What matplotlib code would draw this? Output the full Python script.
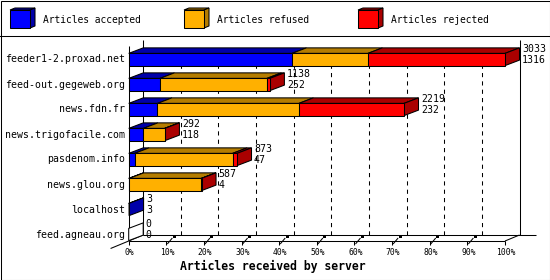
import numpy as np
import matplotlib
matplotlib.use('Agg')
import matplotlib.pyplot as plt
from matplotlib.patches import Polygon, Rectangle
from matplotlib.lines import Line2D

# articles per server
servers = ['feeder1-2.proxad.net', 'feed-out.gegeweb.org', 'news.fdn.fr',
           'news.trigofacile.com', 'pasdenom.info', 'news.glou.org',
           'localhost', 'feed.agneau.org']
accepted = [1316, 252, 232, 118, 47, 4, 3, 0]
refused = [612, 862, 1140, 172, 790, 582, 0, 0]
rejected = [1105, 24, 847, 2, 36, 1, 0, 0]

series_names = ['Articles accepted', 'Articles refused', 'Articles rejected']
front_colors = ['#0000ff', '#ffb000', '#ff0000']
dark_colors = ['#0000aa', '#b57d00', '#aa0000']
pct_ticks = [0, 10, 20, 30, 40, 50, 60, 70, 80, 90, 100]
tick_labels = ['%d%%' % p for p in pct_ticks]

MONO = 'DejaVu Sans Mono'
W, H = 550, 280
lw = 0.75

fig = plt.figure(figsize=(5.5, 2.8), dpi=100)
fig.patch.set_facecolor('white')


def fx(x):
    return x / W


def fy(y):
    return 1 - y / H


ax = fig.add_axes([fx(128.7), fy(241), 376.3 / W, 201 / H])
ax.set_xlim(0, 100)
ax.set_ylim(7.26, -0.78)
ax.axis('off')

ux = 100 / 376.3   # data units per pixel (x)
uy = 1 / 25.0      # data units per pixel (y)
dx = 14.5 * ux     # depth of the 3d effect
dyb = -5.5 * uy
dyw = -6 * uy
floor = 7.26
top_back = -0.78
top_front = -0.54
half = 0.245

data = np.array([accepted, refused, rejected], dtype=float)
totals = data.sum(axis=0)
scale = 100.0 / totals.max()

# walls / floor
def line(xs, ys, **kw):
    ax.add_line(Line2D(xs, ys, color='black', lw=lw, clip_on=False,
                       solid_capstyle='butt', **kw))

line([0, 0], [floor, top_front], zorder=1)
line([dx, dx], [floor + dyw, top_back], zorder=1)
line([100 + dx, 100 + dx], [floor + dyw, top_back], zorder=1)
line([0, 100], [floor, floor], zorder=1)
line([100, 100 + dx], [floor, floor + dyw], zorder=1)
line([dx, 100 + dx + 16 * ux], [floor + dyw, floor + dyw], zorder=1)
line([-1.25 * dx, dx], [floor - 1.25 * dyw, floor + dyw], zorder=1)

for p in pct_ticks[1:-1]:
    line([p + dx, p + dx], [floor + dyw, top_front], zorder=1,
         linestyle=(0, (4, 4)))
for p in pct_ticks:
    line([p, p], [floor, floor + 3.5 * uy], zorder=1)
    if 0 < p < 100:
        line([p + 1 * ux, p + 6 * ux], [floor + 3 * uy, floor - 3 * uy], zorder=1)
        ax.add_patch(Rectangle((p + 6.5 * ux, floor - 5.5 * uy), 3 * ux, 2.5 * uy,
                               facecolor='black', edgecolor='none',
                               clip_on=False, zorder=1))

# bars
for i in range(len(servers)):
    ytop = i - half
    ybot = i + half
    left = 0.0
    last = None
    for s in range(3):
        w = data[s, i] * scale
        if w > 0:
            ax.add_patch(Polygon([(left, ytop), (left + w, ytop),
                                  (left + w + dx, ytop + dyb), (left + dx, ytop + dyb)],
                                 closed=True, facecolor=dark_colors[s],
                                 edgecolor='black', lw=lw, clip_on=False, zorder=3))
            ax.barh(i, w, left=left, height=2 * half, color=front_colors[s],
                    edgecolor='black', linewidth=lw, zorder=4, clip_on=False)
            last = s
        left += w
    side = dark_colors[last] if last is not None else 'white'
    ax.add_patch(Polygon([(left, ytop), (left + dx, ytop + dyb),
                          (left + dx, ybot + dyb), (left, ybot)],
                         closed=True, facecolor=side, edgecolor='black',
                         lw=lw, clip_on=False, zorder=3))
    xl = left + dx + 2.5 * ux
    ax.text(xl, i - 0.41, str(int(totals[i])), ha='left', va='center',
            fontsize=7.1, family=MONO, zorder=5)
    ax.text(xl, i + 0.01, str(accepted[i]), ha='left', va='center',
            fontsize=7.1, family=MONO, zorder=5)
    ax.text(-4 * ux, i, servers[i], ha='right', va='center',
            fontsize=7.1, family=MONO)

for p, lab in zip(pct_ticks, tick_labels):
    ax.text(p + 1 * ux, floor + 11.5 * uy, lab, ha='center', va='center',
            fontsize=5.8, family=MONO)

fig.text(fx(273), fy(266), 'Articles received by server', ha='center',
         va='center', fontsize=8.3, fontweight='bold', family=MONO)

# legend with little cubes
def fpoly(pts, fc):
    fig.add_artist(Polygon([(fx(a), fy(b)) for a, b in pts], closed=True,
                           facecolor=fc, edgecolor='black', lw=lw,
                           transform=fig.transFigure))

for k, x0 in enumerate([10, 184, 358]):
    fpoly([(x0, 10), (x0 + 20, 10), (x0 + 25, 8), (x0 + 5, 8)], dark_colors[k])
    fpoly([(x0 + 20, 10), (x0 + 25, 8), (x0 + 25, 26), (x0 + 20, 28)], dark_colors[k])
    fpoly([(x0, 10), (x0 + 20, 10), (x0 + 20, 28), (x0, 28)], front_colors[k])
    fig.text(fx(x0 + 33), fy(20), series_names[k], ha='left', va='center',
             fontsize=6.9, family=MONO)

fig.add_artist(Line2D([0, 1], [fy(35.5), fy(35.5)], color='black', lw=lw,
                      transform=fig.transFigure))
fig.add_artist(Rectangle((fx(0.5), fy(279.5)), 549 / W, 279 / H, fill=False,
                         edgecolor='black', lw=lw, transform=fig.transFigure))

fig.savefig('out.png', dpi=100)
